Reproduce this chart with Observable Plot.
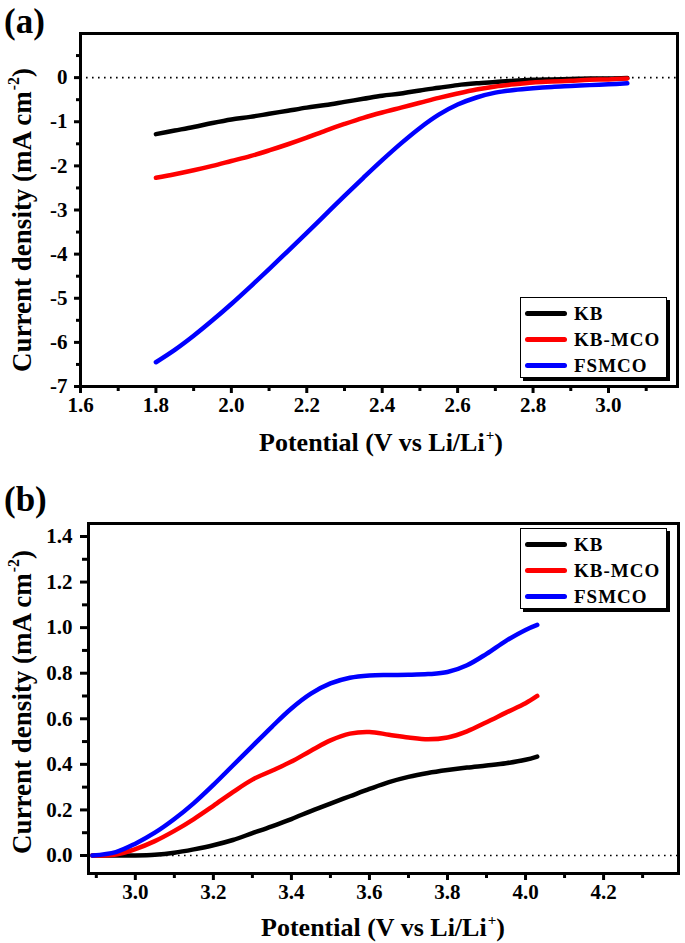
<!DOCTYPE html>
<html>
<head>
<meta charset="utf-8">
<script src="https://cdn.jsdelivr.net/npm/d3@7"></script>
<script src="https://cdn.jsdelivr.net/npm/@observablehq/plot@0.6"></script>
<style>
  body { margin: 0; background: #fff; }
  #wrap { position: relative; width: 685px; height: 943px; overflow: hidden; background: #fff;
          font-family: "Liberation Serif", "Times New Roman", serif; font-weight: bold; color: #000; }
  #wrap svg text { font-family: "Liberation Serif", "Times New Roman", serif !important; font-weight: bold; }
  .panel { position: absolute; left: 0; }
  .tag { position: absolute; left: 4px; font-size: 35px; line-height: 1; }
  .xt { position: absolute; font-size: 26px; line-height: 1; white-space: nowrap; transform: translate(-50%, -50%); }
  .yt { position: absolute; font-size: 27px; line-height: 1; white-space: nowrap; transform: translate(-50%, -50%) rotate(-90deg); }
  .sup { font-size: 58%; position: relative; top: -0.75em; margin-left: 1px; }
  .legend { position: absolute; width: 145px; height: 77px; background: #fff; border: 1.5px solid #000;
            box-shadow: 3px 3px 0 #000; box-sizing: content-box; padding-top: 2px; }
  .row { display: flex; align-items: center; height: 26px; }
  .sw { width: 42px; height: 5px; border-radius: 3px; margin-left: 4px; margin-right: 7px; }
  .lt { font-size: 19px; letter-spacing: 1px; line-height: 1; }
</style>
</head>
<body>
<div id="wrap">
  <div class="tag" style="top:4px">(a)</div>
  <div class="tag" style="top:482px">(b)</div>
  <div id="pa" class="panel" style="top:0px"></div>
  <div id="pb" class="panel" style="top:470px"></div>
  <div class="yt" style="left:22px; top:220px">Current density (mA cm<span class="sup">-2</span>)</div>
  <div class="yt" style="left:22px; top:702px">Current density (mA cm<span class="sup">-2</span>)</div>
  <div class="xt" style="left:381px; top:443px">Potential (V vs Li/Li<span class="sup">+</span>)</div>
  <div class="xt" style="left:383px; top:928px">Potential (V vs Li/Li<span class="sup">+</span>)</div>
  <div id="lega" class="legend" style="left:520px; top:297px"></div>
  <div id="legb" class="legend" style="left:520px; top:528px"></div>
</div>
<script>
// ---------- series ----------
const seriesNames = ["KB", "KB-MCO", "FSMCO"];
const seriesColors = ["#000000", "#ff0000", "#0000ff"];

// Panel (a): cathodic scan
const potentialA = [1.80,1.85,1.90,1.95,2.00,2.05,2.10,2.15,2.20,2.25,2.30,2.35,2.40,2.45,2.50,2.55,2.60,2.65,2.70,2.75,2.80,2.85,2.90,2.95,3.00,3.05];
const kbA      = [-1.28,-1.20,-1.12,-1.03,-0.95,-0.89,-0.82,-0.75,-0.68,-0.62,-0.55,-0.48,-0.41,-0.36,-0.29,-0.23,-0.17,-0.13,-0.10,-0.07,-0.05,-0.04,-0.03,-0.02,-0.02,-0.01];
const kbmcoA   = [-2.27,-2.19,-2.10,-2.00,-1.89,-1.78,-1.65,-1.51,-1.36,-1.20,-1.05,-0.91,-0.79,-0.68,-0.57,-0.46,-0.36,-0.27,-0.20,-0.15,-0.11,-0.09,-0.07,-0.05,-0.04,-0.02];
const fsmcoA   = [-6.45,-6.17,-5.85,-5.50,-5.13,-4.74,-4.34,-3.93,-3.52,-3.10,-2.68,-2.27,-1.87,-1.49,-1.14,-0.84,-0.61,-0.45,-0.34,-0.28,-0.24,-0.21,-0.19,-0.17,-0.15,-0.13];

// Panel (b): anodic scan
const potentialB = [2.89,2.95,3.00,3.05,3.10,3.15,3.20,3.25,3.30,3.35,3.40,3.45,3.50,3.55,3.60,3.65,3.70,3.75,3.80,3.85,3.90,3.95,4.00,4.03];
const kbB      = [0,0,0,0.003,0.012,0.027,0.045,0.068,0.098,0.128,0.160,0.195,0.228,0.260,0.292,0.322,0.345,0.362,0.375,0.386,0.395,0.405,0.420,0.434];
const kbmcoB   = [0,0.004,0.028,0.063,0.108,0.160,0.218,0.278,0.333,0.372,0.412,0.460,0.505,0.535,0.542,0.530,0.518,0.510,0.518,0.545,0.585,0.627,0.668,0.700];
const fsmcoB   = [0,0.015,0.052,0.100,0.160,0.230,0.310,0.395,0.480,0.565,0.645,0.710,0.755,0.780,0.790,0.792,0.793,0.796,0.805,0.835,0.885,0.942,0.990,1.012];

// ---------- ticks ----------
const xMajorA = [1.6,1.8,2.0,2.2,2.4,2.6,2.8,3.0];
const xMinorA = [1.7,1.9,2.1,2.3,2.5,2.7,2.9,3.1];
const yMajorA = [-7,-6,-5,-4,-3,-2,-1,0];
const yMinorA = [-6.5,-5.5,-4.5,-3.5,-2.5,-1.5,-0.5,0.5];
const xMajorB = [3.0,3.2,3.4,3.6,3.8,4.0,4.2];
const xMinorB = [2.9,3.1,3.3,3.5,3.7,3.9,4.1,4.3];
const yMajorB = [0.0,0.2,0.4,0.6,0.8,1.0,1.2,1.4];
const yMinorB = [0.1,0.3,0.5,0.7,0.9,1.1,1.3];

function tidy(xs, ys) {
  const out = [];
  ys.forEach((arr, i) => arr.forEach((v, j) => out.push({x: xs[j], y: v, s: seriesNames[i]})));
  return out;
}
const dataA = tidy(potentialA, [kbA, kbmcoA, fsmcoA]);
const dataB = tidy(potentialB, [kbB, kbmcoB, fsmcoB]);

const serif = "'Liberation Serif','Times New Roman',serif";
const font = {fontFamily: serif, fontWeight: "bold", fontSize: "21px", background: "transparent", overflow: "visible", color: "#000"};
const blank = () => "";

function panel(o) {
  return Plot.plot({
    width: 685, height: o.height,
    marginLeft: o.ml, marginRight: o.mr, marginTop: o.mt, marginBottom: o.mb,
    x: {domain: o.xd, axis: null},
    y: {domain: o.yd, axis: null},
    color: {domain: seriesNames, range: seriesColors},
    style: font,
    marks: [
      Plot.ruleY([0], {stroke: "#000", strokeWidth: 1.6, strokeDasharray: "1.6,4.4"}),
      Plot.line(o.data, {x: "x", y: "y", z: "s", stroke: "s", strokeWidth: 4.5, curve: "catmull-rom"}),
      Plot.axisX({ticks: o.xMinor, anchor: "bottom", tickSize: 5, strokeWidth: 3, tickFormat: blank, label: null}),
      Plot.axisX({ticks: o.xMajor, anchor: "bottom", tickSize: 7, tickPadding: 4, strokeWidth: 3, tickFormat: d3.format(".1f"), label: null, fontWeight: "bold", fontSize: 21, fontFamily: serif}),
      Plot.axisY({ticks: o.yMinor, anchor: "left", tickSize: o.yts - 2, strokeWidth: 3, tickFormat: blank, label: null}),
      Plot.axisY({ticks: o.yMajor, anchor: "left", tickSize: o.yts, tickPadding: o.ytp, strokeWidth: 3, tickFormat: o.yf, label: null, fontWeight: "bold", fontSize: 21, fontFamily: serif}),
      Plot.frame({stroke: "#000", strokeWidth: 3})
    ]
  });
}

document.getElementById("pa").appendChild(panel({
  height: 460, ml: 80, mr: 8, mt: 33, mb: 74,
  xd: [1.6, 3.183], yd: [-7, 1],
  data: dataA, xMajor: xMajorA, xMinor: xMinorA, yMajor: yMajorA, yMinor: yMinorA,
  yts: 6, ytp: 7, yf: d => String(d)
}));
document.getElementById("pb").appendChild(panel({
  height: 473, ml: 88, mr: 7, mt: 53, mb: 70,
  xd: [2.88, 4.392], yd: [-0.079, 1.457],
  data: dataB, xMajor: xMajorB, xMinor: xMinorB, yMajor: yMajorB, yMinor: yMinorB,
  yts: 8, ytp: 8, yf: d3.format(".1f")
}));

function legend(id) {
  const el = document.getElementById(id);
  seriesNames.forEach((n, i) => {
    const row = document.createElement("div");
    row.className = "row";
    row.innerHTML = `<div class="sw" style="background:${seriesColors[i]}"></div><div class="lt">${n}</div>`;
    el.appendChild(row);
  });
}
legend("lega");
legend("legb");
</script>
</body>
</html>
